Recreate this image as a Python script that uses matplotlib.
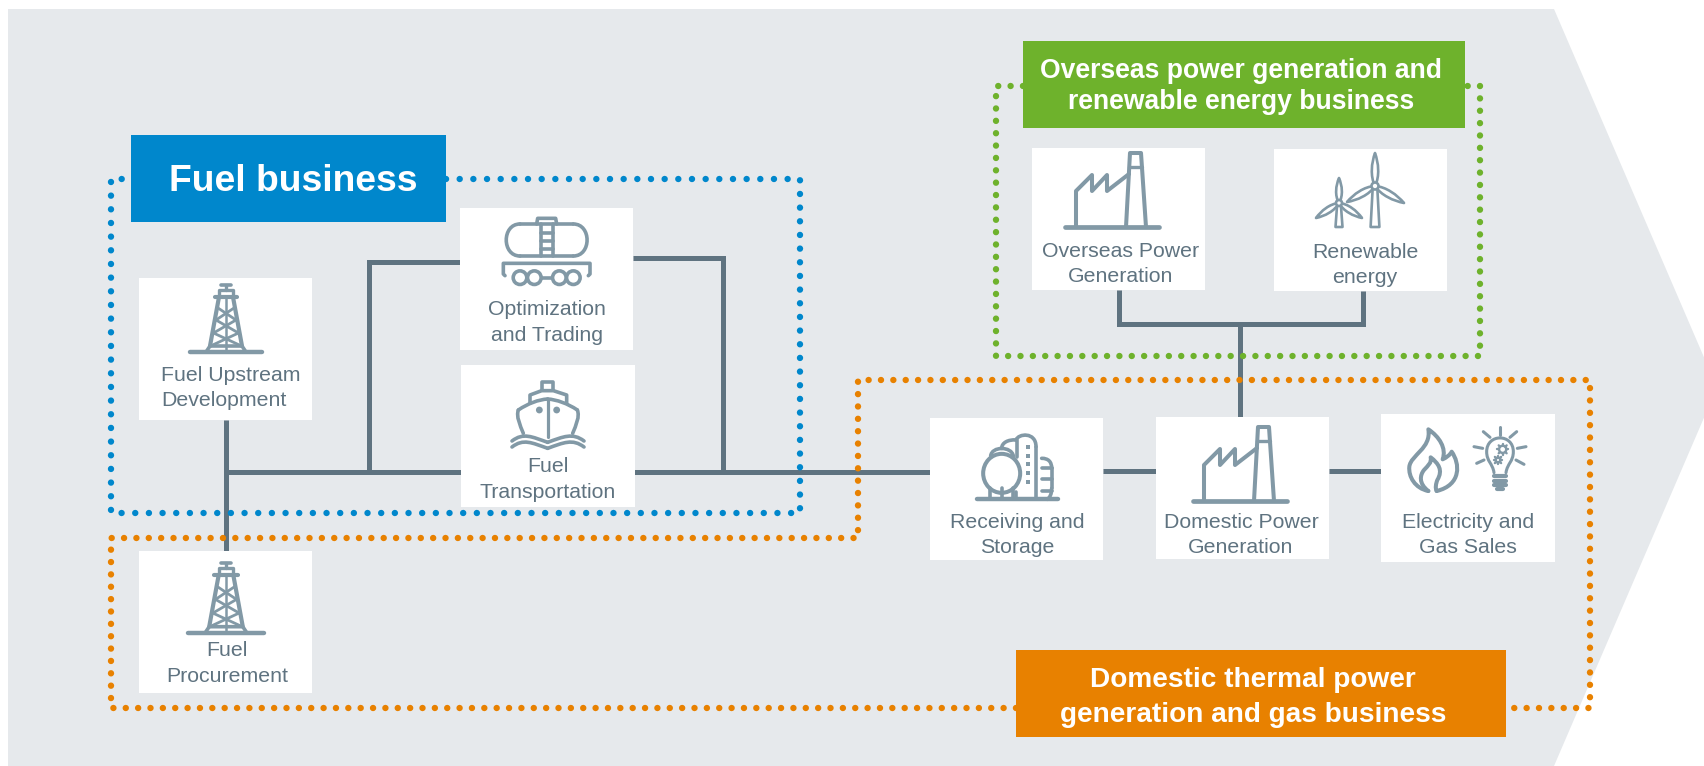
import matplotlib
matplotlib.use('Agg')
import matplotlib.pyplot as plt
from matplotlib.patches import Polygon, Rectangle, Ellipse, Circle, PathPatch, FancyBboxPatch
from matplotlib.path import Path
import math

plt.rcParams['font.family'] = ['Liberation Sans', 'DejaVu Sans']

# text of the diagram
node_names = ['upstream', 'optimization', 'transport', 'procurement', 'overseas',
              'renewable', 'receiving', 'domestic', 'sales']
node_lines = [['Fuel Upstream', 'Development'], ['Optimization', 'and Trading'],
              ['Fuel', 'Transportation'], ['Fuel', 'Procurement'],
              ['Overseas Power', 'Generation'], ['Renewable', 'energy'],
              ['Receiving and', 'Storage'], ['Domestic Power', 'Generation'],
              ['Electricity and', 'Gas Sales']]
header_lines = [['Fuel business'],
                ['Overseas power generation and', 'renewable energy business'],
                ['Domestic thermal power', 'generation and gas business']]

# layout in pixels of the reference
W, H = 1704, 766
node_boxes = [(139, 278, 312, 420), (460, 208, 633, 350), (461, 365, 635, 507),
              (139, 551, 312, 693), (1032, 148, 1205, 290), (1274, 149, 1447, 291),
              (930, 418, 1103, 560), (1156, 417, 1329, 559), (1381, 414, 1555, 562)]
node_text_x = [(231, 224), (547, 547), (548, 548), (227, 227), (1121, 1121),
               (1365, 1365), (1017, 1017), (1241, 1241), (1468, 1468)]
node_text_y = [(381, 406), (315, 341), (472, 498), (656, 682), (257, 282),
               (258, 283), (528, 553), (528, 553), (528, 553)]
header_boxes = [(131, 135, 446, 222), (1023, 41, 1465, 128), (1016, 650, 1506, 737)]
header_text_x = [293, 1241, 1253]
header_text_y = [(191,), (78, 109), (687, 722)]
header_size = [26.8, 19.1, 20.15]

BLUE, GREEN, ORANGE = '#0087cc', '#6eb22c', '#e88100'
header_colors = [BLUE, GREEN, ORANGE]
BG = '#e6e9ec'
LINE = '#5f7380'
ICON = '#8299a6'
TEXT = '#5f7380'

dotted_paths = [
    ([(446, 179), (800, 179), (800, 513), (111, 513), (111, 179), (131, 179)], BLUE, 13.6),
    ([(1023, 86), (996, 86), (996, 356), (1480, 356), (1480, 86), (1465, 86)], GREEN, 12.3),
    ([(1016, 708), (111, 708), (111, 538), (858, 538), (858, 380), (1590, 380),
      (1590, 708), (1506, 708)], ORANGE, 12.3),
]
connectors = [
    [(226, 420), (226, 551)],
    [(226, 472), (930, 472)],
    [(369, 472), (369, 262), (460, 262)],
    [(633, 258), (723, 258), (723, 472)],
    [(1103, 471), (1156, 471)],
    [(1329, 471), (1381, 471)],
    [(1240, 417), (1240, 324)],
    [(1119, 290), (1119, 324), (1363, 324), (1363, 291)],
]

fig = plt.figure(figsize=(W / 100, H / 100), dpi=100, facecolor='white')
ax = fig.add_axes([0, 0, 1, 1])
ax.set_xlim(0, W)
ax.set_ylim(H, 0)
ax.axis('off')


def stroke(pts, lw=2.6, color=ICON, closed=False, z=5):
    if closed:
        pts = list(pts) + [pts[0]]
    ax.plot([p[0] for p in pts], [p[1] for p in pts], color=color, lw=lw,
            solid_capstyle='round', solid_joinstyle='round', zorder=z)


def curve(verts, lw=2.6, fill='none', z=5):
    # verts: start point followed by triples of cubic control points
    codes = [Path.MOVETO] + [Path.CURVE4] * (len(verts) - 1)
    ax.add_patch(PathPatch(Path(verts, codes), fc=fill, ec=ICON, lw=lw, zorder=z,
                           capstyle='round', joinstyle='round'))


def crop(x0, y0):
    return lambda zx, zy: (x0 + zx / 3, y0 + zy / 3)


def derrick(cx, base, s=1.0):
    p = lambda dx, dy: (cx + dx * s, base - dy * s)
    stroke([p(-36, 0), p(36, 0)], lw=3.2)
    stroke([p(-20, 0), p(-16, 6), p(16, 6), p(20, 0)])
    stroke([p(-16, 6), p(-7, 55)], lw=3)
    stroke([p(16, 6), p(7, 55)], lw=3)
    stroke([p(0, 0), p(0, 55)], lw=1.8)
    levels = [(6, 15.5), (19, 12.5), (32, 10), (44, 8)]
    for i in range(3):
        a, wa = levels[i]
        b, wb = levels[i + 1]
        stroke([p(-wa, a), p(wb, b)], lw=2)
        stroke([p(wa, a), p(-wb, b)], lw=2)
    stroke([p(-11, 55), p(11, 55)], lw=3)
    stroke([p(-7, 55), p(-7, 62), p(7, 62), p(7, 55)], lw=2.4)
    stroke([p(-5, 67), p(5, 67)], lw=2.6)
    stroke([p(0, 67), p(0, 62)], lw=2.4)


def factory(x0, base):
    p = lambda dx, dy: (x0 + dx, base - dy)
    stroke([p(0, 0), p(94, 0)], lw=3.4)
    stroke([p(11, 0), p(11, 36), p(27, 52), p(27, 36), p(42, 52), p(42, 36),
            p(64, 53)], lw=2.9)
    stroke([p(61, 0), p(65, 74), p(76, 74), p(81, 0)], lw=2.9)
    stroke([p(64, 60), p(77, 60)], lw=2.4)


def tank_car(x0, y0):
    z = crop(x0, y0)
    curve([z(90, 42), z(35, 42), z(35, 138), z(90, 138)])
    curve([z(250, 42), z(305, 42), z(305, 138), z(250, 138)])
    stroke([z(90, 42), z(250, 42)])
    stroke([z(90, 138), z(250, 138)])
    stroke([z(140, 42), z(143, 25), z(197, 25), z(200, 42)])
    stroke([z(152, 42), z(152, 138)])
    stroke([z(190, 42), z(190, 138)])
    for zy in (68, 92, 116):
        stroke([z(152, zy), z(190, zy)])
    stroke([z(45, 197), z(40, 192), z(40, 160), z(300, 160), z(300, 192), z(295, 197)])
    stroke([z(150, 203), z(190, 203)])
    for zx in (90, 133, 208, 250):
        ax.add_patch(Circle(z(zx, 203), 6.8, fc='white', ec=ICON, lw=2.6, zorder=5))


def ship(x0, y0):
    z = crop(x0, y0)
    stroke([z(155, 46), z(155, 20), z(190, 20), z(190, 46)])
    stroke([z(120, 85), z(120, 60), z(155, 47), z(190, 47), z(230, 60), z(230, 85)])
    curve([z(85, 105), z(115, 85), z(145, 74), z(173, 72)])
    curve([z(173, 72), z(200, 74), z(232, 85), z(262, 105)])
    curve([z(85, 105), z(78, 125), z(90, 150), z(100, 175)])
    curve([z(262, 105), z(270, 125), z(258, 150), z(248, 175)])
    stroke([z(173, 74), z(173, 185)], lw=2.3)
    for zx in (148, 200):
        ax.add_patch(Circle(z(zx, 105), 3.4, fc=ICON, ec='none', zorder=5))
    for dz in (0, 18):
        curve([z(66, 198 + dz), z(100, 172 + dz), z(125, 185 + dz), z(173, 202 + dz)])
        curve([z(173, 202 + dz), z(220, 185 + dz), z(248, 172 + dz), z(282, 198 + dz)])


def blade(hx, hy, tx, ty, w):
    # leaf from hub to tip, bulging on both sides
    dx, dy = tx - hx, ty - hy
    nx, ny = -dy, dx
    n = (nx ** 2 + ny ** 2) ** 0.5
    nx, ny = nx / n * w, ny / n * w
    a = (hx + dx * 0.3 + nx, hy + dy * 0.3 + ny)
    b = (hx + dx * 0.7 + nx * 0.7, hy + dy * 0.7 + ny * 0.7)
    c = (hx + dx * 0.7 - nx * 0.7, hy + dy * 0.7 - ny * 0.7)
    d = (hx + dx * 0.3 - nx, hy + dy * 0.3 - ny)
    curve([(hx, hy), a, b, (tx, ty), c, d, (hx, hy)], lw=1.9, fill='white', z=6)


def turbine(hx, hy, base, tips, w, r, half):
    stroke([(hx - half * 0.5, hy), (hx - half, base), (hx + half, base),
            (hx + half * 0.5, hy)], lw=1.9)
    for tx, ty in tips:
        blade(hx, hy, tx, ty, w)
    ax.add_patch(Circle((hx, hy), r, fc='white', ec=ICON, lw=1.9, zorder=7))


def tanks(x0, y0):
    z = crop(x0, y0)
    stroke([z(50, 238), z(293, 238)], lw=3.2)
    # tower behind the sphere
    curve([z(125, 85), z(125, 68), z(145, 58), z(168, 60)])
    curve([z(168, 60), z(175, 40), z(228, 35), z(228, 80)])
    stroke([z(228, 80), z(228, 238)])
    stroke([z(170, 60), z(170, 110)])
    stroke([z(168, 215), z(168, 238)])
    for zy in (80, 107, 133, 160, 187):
        ax.add_patch(Rectangle(z(199, zy - 6), 4, 4, fc=ICON, ec='none', zorder=5))
    # sphere with its cap and legs
    curve([z(92, 108), z(95, 78), z(155, 78), z(160, 108)])
    ax.add_patch(Ellipse(z(125, 160), 37, 39, fc='white', ec=ICON, lw=2.9, zorder=5))
    for zx in (90, 125, 160):
        stroke([z(zx, 205), z(zx, 238)])
    # small tank on the right
    curve([z(245, 115), z(265, 115), z(275, 125), z(275, 145)])
    stroke([z(275, 145), z(275, 205)])
    curve([z(275, 205), z(275, 222), z(270, 232), z(262, 238)])
    for zy in (143, 178, 212):
        stroke([z(245, zy), z(275, zy)])


def flame(x0, y0):
    z = crop(x0, y0)
    curve([z(85, 213), z(45, 205), z(25, 170), z(28, 140),
           z(32, 105), z(95, 85), z(85, 28),
           z(118, 50), z(140, 85), z(128, 118),
           z(140, 112), z(150, 105), z(155, 95),
           z(180, 130), z(185, 195), z(110, 213)], lw=2.9)
    curve([z(85, 213), z(55, 190), z(60, 165), z(72, 150),
           z(85, 135), z(95, 130), z(92, 112),
           z(115, 130), z(130, 150), z(112, 180),
           z(108, 190), z(105, 205), z(110, 213)], lw=2.9)


def gear(c, r):
    # small cog: ring with short teeth around it
    ax.add_patch(Circle(c, r, fc='none', ec=ICON, lw=1.7, zorder=5))
    for i in range(8):
        a = i * math.pi / 4
        stroke([(c[0] + r * math.cos(a), c[1] + r * math.sin(a)),
                (c[0] + (r + 2) * math.cos(a), c[1] + (r + 2) * math.sin(a))], lw=1.7)


def bulb(x0, y0):
    z = crop(x0, y0)
    curve([z(282, 158), z(278, 130), z(260, 125), z(260, 95),
           z(260, 40), z(340, 40), z(340, 95),
           z(340, 125), z(322, 130), z(318, 158)], lw=2.2)
    for zy in (168, 182, 195):
        stroke([z(282, zy), z(318, zy)], lw=3)
    stroke([z(292, 208), z(308, 208)], lw=3)
    for a, b, c, d in [(300, 22, 300, 45), (250, 35, 270, 52), (350, 35, 330, 52),
                       (222, 80, 248, 85), (352, 85, 378, 80), (230, 130, 252, 120),
                       (348, 120, 372, 133)]:
        stroke([z(a, b), z(c, d)], lw=2.2)
    gear(z(308, 88), 3.6)
    gear(z(294, 120), 2.4)


# pentagon behind everything, its tip runs off the right edge
ax.add_patch(Polygon([(8, 9), (1554, 9), (1717, 387.5), (1554, 766), (8, 766)],
                     closed=True, fc=BG, ec='none', zorder=0))

for seg in connectors:
    ax.plot([p[0] for p in seg], [p[1] for p in seg], color=LINE, lw=3.6,
            solid_capstyle='butt', solid_joinstyle='miter', zorder=1)

for pts, color, gap in dotted_paths:
    lw = 4.6
    ax.plot([p[0] for p in pts], [p[1] for p in pts], color=color, lw=lw,
            linestyle=(0, (0.01, gap * 0.72 / lw)), dash_capstyle='round', zorder=2)

for box, lines, xs, ys in zip(node_boxes, node_lines, node_text_x, node_text_y):
    ax.add_patch(Rectangle((box[0], box[1]), box[2] - box[0], box[3] - box[1],
                           fc='white', ec='none', zorder=3))
    for t, x, y in zip(lines, xs, ys):
        ax.text(x, y, t, color=TEXT, fontsize=15.3, ha='center', va='baseline', zorder=8)

for box, lines, x, ys, size, color in zip(header_boxes, header_lines, header_text_x,
                                          header_text_y, header_size, header_colors):
    ax.add_patch(Rectangle((box[0], box[1]), box[2] - box[0], box[3] - box[1],
                           fc=color, ec='none', zorder=3))
    for t, y in zip(lines, ys):
        ax.text(x, y, t, color='white', fontsize=size, fontweight='bold',
                ha='center', va='baseline', zorder=8)

derrick(226, 352)
derrick(226, 633, 1.05)
tank_car(490, 210)
ship(490, 375)
factory(1065, 227)
factory(1193, 501)
turbine(1375, 186, 227, [(1375, 153), (1347, 202), (1404, 203)], 5, 3.5, 4.4)
turbine(1339, 203, 227, [(1339, 178), (1316, 218), (1362, 218)], 4.5, 3, 3.5)
tanks(960, 420)
flame(1400, 420)
bulb(1400, 420)

fig.savefig('out.png', dpi=100, facecolor='white')
